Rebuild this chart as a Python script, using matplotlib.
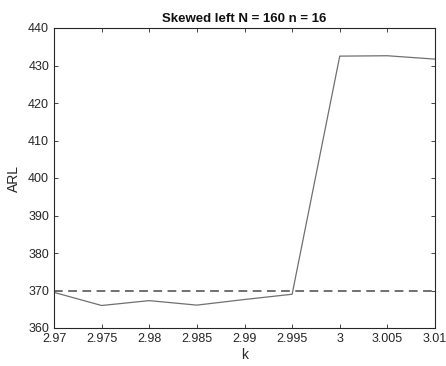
import matplotlib
matplotlib.use("Agg")
import matplotlib.pyplot as plt

k = [2.97, 2.975, 2.98, 2.985, 2.99, 2.995, 3.0, 3.005, 3.01]
arl = [369.5, 366.0, 367.3, 366.1, 367.6, 369.0, 432.5, 432.6, 431.7]
ref_arl = 370
xticks = [2.97, 2.975, 2.98, 2.985, 2.99, 2.995, 3.0, 3.005, 3.01]
xticklabels = ["2.97", "2.975", "2.98", "2.985", "2.99", "2.995", "3", "3.005", "3.01"]
yticks = [360, 370, 380, 390, 400, 410, 420, 430, 440]

plt.rcParams['font.family'] = ['Liberation Sans', 'DejaVu Sans']
fig = plt.figure(figsize=(4.46, 3.66), dpi=100)
ax = fig.add_axes([54/446, 1-328/366, (435-54)/446, 300/366])
ax.plot(k, arl, color='#707070', lw=0.9)
ax.axhline(ref_arl, color='#707070', lw=1.4, ls=(0, (4.5, 2.8)))
ax.set_xlim(2.97, 3.01)
ax.set_ylim(360, 440)
ax.set_xticks(xticks)
ax.set_xticklabels(xticklabels)
ax.set_yticks(yticks)
ax.tick_params(direction='in', top=True, right=True, labelsize=9, colors='#262626', length=3, width=0.6)
for s in ax.spines.values():
    s.set_color('#262626')
    s.set_linewidth(0.8)
ax.set_xlabel('k', fontsize=10, color='#262626', labelpad=2)
ax.set_ylabel('ARL', fontsize=10, color='#262626', labelpad=5)
ax.set_title('Skewed left N = 160 n = 16', fontsize=9.5, fontweight='bold', color='#111111', pad=4)
fig.savefig('out.png', dpi=100)
